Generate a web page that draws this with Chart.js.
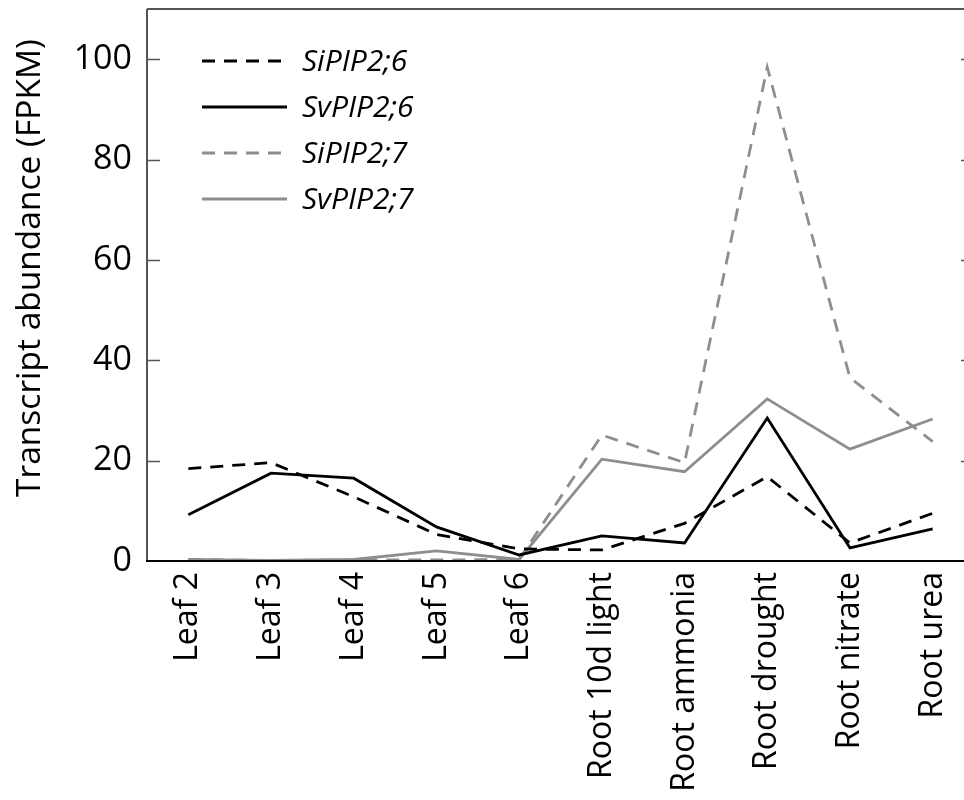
<!DOCTYPE html>
<html>
<head>
<meta charset="utf-8">
<script src="https://cdn.jsdelivr.net/npm/chart.js@4/dist/chart.umd.min.js"></script>
<style>
  html, body { margin: 0; padding: 0; background: #fff; overflow: hidden; }
  #chart { display: block; }
</style>
</head>
<body>
<canvas id="chart" width="976" height="800"></canvas>
<script>
// Tissues / treatments on the x axis
var tissues = ['Leaf 2', 'Leaf 3', 'Leaf 4', 'Leaf 5', 'Leaf 6',
	'Root 10d light', 'Root ammonia', 'Root drought', 'Root nitrate', 'Root urea'];

// FPKM per gene
var siPIP26 = [18.4, 19.6, 12.8, 5.3, 2.4, 2.2, 7.5, 16.8, 3.6, 9.5];
var svPIP26 = [9.2, 17.5, 16.5, 6.8, 1.2, 5.0, 3.6, 28.5, 2.6, 6.4];
var siPIP27 = [0.3, 0.1, 0.2, 0.2, 0.3, 25.1, 19.6, 98.4, 36.5, 23.8];
var svPIP27 = [0.3, 0.1, 0.3, 2.0, 0.3, 20.3, 17.8, 32.3, 22.3, 28.3];

var geneNames = ['SiPIP2;6', 'SvPIP2;6', 'SiPIP2;7', 'SvPIP2;7'];
var yTitle = 'Transcript abundance (FPKM)';

var GREY = '#8e8e8e';
var DASH = [13, 9];
var FONT = '"Open Sans", "DejaVu Sans", sans-serif';

//Frame, inward tick marks on both sides, axis title, legend inside the plot
var framePlugin = {
	id: 'frame',
	afterDraw: function (chart) {
		var ctx = chart.ctx;
		var a = chart.chartArea;
		var y = chart.scales.y;
		ctx.save();
		ctx.lineCap = 'butt';

		ctx.strokeStyle = '#555';
		ctx.lineWidth = 2;
		ctx.beginPath();
		ctx.moveTo(a.left, a.top); ctx.lineTo(a.right, a.top);
		ctx.moveTo(a.left, a.top); ctx.lineTo(a.left, a.bottom);
		ctx.moveTo(a.right, a.top); ctx.lineTo(a.right, a.bottom);
		ctx.stroke();

		y.ticks.forEach(function (t) {
			if (t.value <= 0 || t.value >= y.max) return;
			var py = Math.round(y.getPixelForValue(t.value)) + 0.5;
			var len = (t.value % 20 === 0) ? 13 : 7;
			ctx.lineWidth = 1.5;
			ctx.beginPath();
			ctx.moveTo(a.left, py); ctx.lineTo(a.left + len, py);
			ctx.moveTo(a.right, py); ctx.lineTo(a.right - len, py);
			ctx.stroke();
		});

		ctx.strokeStyle = '#000';
		ctx.lineWidth = 2;
		ctx.beginPath();
		ctx.moveTo(a.left - 1, a.bottom); ctx.lineTo(a.right, a.bottom);
		ctx.stroke();

		// y title, sits a bit above the plot centre
		ctx.save();
		ctx.translate(30, 268);
		ctx.rotate(-Math.PI / 2);
		ctx.font = '33.5px ' + FONT;
		ctx.textAlign = 'center';
		ctx.textBaseline = 'middle';
		ctx.fillStyle = '#000';
		ctx.fillText(yTitle, 0, 0);
		ctx.restore();

		// legend
		ctx.font = 'italic 30px ' + FONT;
		ctx.textBaseline = 'middle';
		ctx.fillStyle = '#000';
		chart.data.datasets.forEach(function (ds, i) {
			var ly = 61 + i * 46;
			ctx.strokeStyle = ds.borderColor;
			ctx.lineWidth = ds.borderWidth;
			ctx.setLineDash(ds.borderDash || []);
			ctx.beginPath();
			ctx.moveTo(202, ly); ctx.lineTo(287, ly);
			ctx.stroke();
			ctx.setLineDash([]);
			ctx.fillText(ds.label, 302, ly + 1);
		});
		ctx.restore();
	}
};

function series(label, data, color, dashed) {
	return {
		label: label,
		data: data,
		borderColor: color,
		backgroundColor: color,
		borderWidth: 2.8,
		borderDash: dashed ? DASH : [],
		pointRadius: 0,
		tension: 0,
		fill: false
	};
}

new Chart(document.getElementById('chart'), {
	type: 'line',
	data: {
		labels: tissues,
		datasets: [
			series(geneNames[0], siPIP26, '#000', true),
			series(geneNames[1], svPIP26, '#000', false),
			series(geneNames[2], siPIP27, GREY, true),
			series(geneNames[3], svPIP27, GREY, false)
		]
	},
	options: {
		responsive: false,
		animation: false,
		layout: { padding: { top: 9, right: 2, left: 0, bottom: 0 } },
		plugins: {
			legend: { display: false },
			tooltip: { enabled: false }
		},
		scales: {
			x: {
				offset: true,
				grid: { display: false, drawTicks: false },
				border: { display: false },
				ticks: {
					minRotation: 90,
					maxRotation: 90,
					autoSkip: false,
					padding: 11,
					color: '#000',
					font: { family: FONT, size: 32 }
				},
				afterFit: function (scale) {
					scale.height = 239;
					scale.paddingLeft = 0;
					scale.paddingRight = 0;
				}
			},
			y: {
				min: 0,
				max: 110,
				grid: { display: false, drawTicks: false },
				border: { display: false },
				ticks: {
					stepSize: 10,
					padding: 15,
					color: '#000',
					font: { family: FONT, size: 34 },
					callback: function (v) {
						return (v % 20 === 0 && v <= 100) ? v : null;
					}
				},
				afterFit: function (scale) {
					scale.width = 147;
					scale.paddingTop = 0;
					scale.paddingBottom = 0;
				}
			}
		}
	},
	plugins: [framePlugin]
});
</script>
</body>
</html>
